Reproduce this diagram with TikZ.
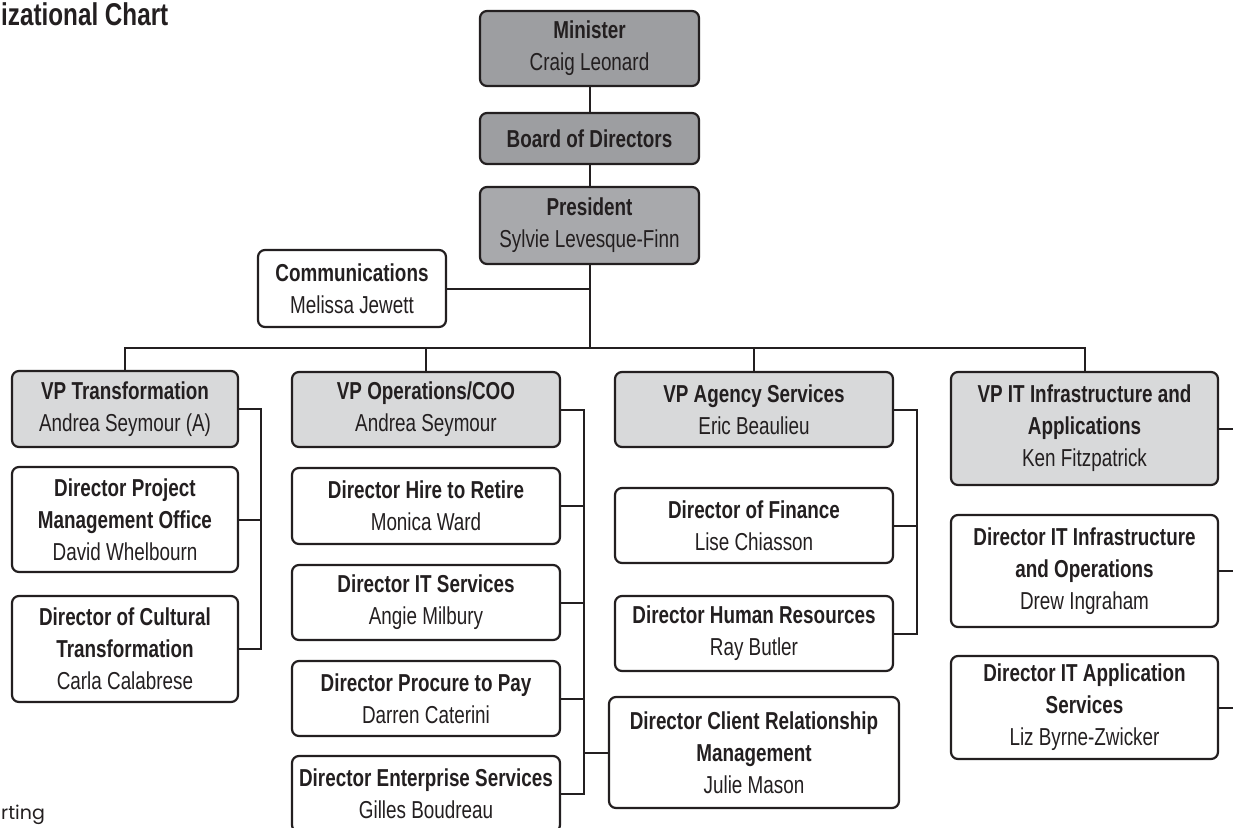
\documentclass[tikz,border=0pt]{standalone}
\usepackage{fontspec}
\usepackage{xcolor}
\setmainfont[FakeStretch=0.77]{Liberation Sans}
\newfontfamily\notefont{Poppins}

\definecolor{ink}{RGB}{35,31,32}
\definecolor{topgrey}{RGB}{157,158,161}
\definecolor{presgrey}{RGB}{168,169,172}
\definecolor{vpgrey}{RGB}{216,217,218}

\begin{document}
\begin{tikzpicture}[x=1pt, y=-1pt,
    box/.style={draw=ink, line width=2.2pt, rounded corners=7pt, align=center,
      inner sep=2pt, text=ink, font=\fontsize{24.5}{32}\selectfont},
    topbox/.style={box, fill=topgrey},
    presbox/.style={box, fill=presgrey},
    vpbox/.style={box, fill=vpgrey},
    link/.style={draw=ink, line width=2pt}]
    \useasboundingbox (0,0) rectangle (1233,827);
    \clip (0,0) rectangle (1233,827);

    % top of the chart
    \node[anchor=base west, inner sep=0, text=ink, font=\fontsize{31.5}{38}\selectfont\bfseries]
      (title) at (1,25) {izational Chart};
    \node[topbox, minimum width=219pt, minimum height=75pt]
      (minister) at (589.5,48.5) {\textbf{Minister}\\Craig Leonard};
    \node[topbox, minimum width=219pt, minimum height=51pt]
      (board) at (589.5,138.5) {\textbf{Board of Directors}};
    \node[presbox, minimum width=219pt, minimum height=77pt]
      (president) at (589.5,225.5) {\textbf{President}\\Sylvie Levesque-Finn};
    \node[box, minimum width=188pt, minimum height=77pt]
      (comms) at (352,288.5) {\textbf{Communications}\\Melissa Jewett};

    % vice-presidents
    \node[vpbox, minimum width=226pt, minimum height=76pt]
      (vptrans) at (125,409) {\textbf{VP Transformation}\\Andrea Seymour (A)};
    \node[vpbox, minimum width=268pt, minimum height=75pt]
      (vpops) at (426,409.5) {\textbf{VP Operations/COO}\\Andrea Seymour};
    \node[vpbox, minimum width=278pt, minimum height=75pt]
      (vpagency) at (754,409.5) {\textbf{VP Agency Services}\\Eric Beaulieu};
    \node[vpbox, minimum width=267pt, minimum height=113pt]
      (vpit) at (1084.5,428.5) {\textbf{VP IT Infrastructure and}\\\textbf{Applications}\\Ken Fitzpatrick};

    % directors under transformation
    \node[box, minimum width=226pt, minimum height=105pt]
      (pmo) at (125,519.5) {\textbf{Director Project}\\\textbf{Management Office}\\David Whelbourn};
    \node[box, minimum width=226pt, minimum height=106pt]
      (cultural) at (125,649) {\textbf{Director of Cultural}\\\textbf{Transformation}\\Carla Calabrese};

    % directors under operations
    \node[box, minimum width=268pt, minimum height=76pt]
      (hire) at (426,506) {\textbf{Director Hire to Retire}\\Monica Ward};
    \node[box, minimum width=268pt, minimum height=75pt]
      (itserv) at (426,602.5) {\textbf{Director IT Services}\\Angie Milbury};
    \node[box, minimum width=268pt, minimum height=75pt]
      (procure) at (426,698.5) {\textbf{Director Procure to Pay}\\Darren Caterini};
    \node[box, minimum width=268pt, minimum height=76pt]
      (enterprise) at (426,794) {\textbf{Director Enterprise Services}\\Gilles Boudreau};
    \node[box, minimum width=290pt, minimum height=111pt]
      (client) at (754,752.5) {\textbf{Director Client Relationship}\\\textbf{Management}\\Julie Mason};

    % directors under agency services
    \node[box, minimum width=278pt, minimum height=75pt]
      (finance) at (754,525.5) {\textbf{Director of Finance}\\Lise Chiasson};
    \node[box, minimum width=278pt, minimum height=75pt]
      (hr) at (754,633.5) {\textbf{Director Human Resources}\\Ray Butler};

    % directors under IT
    \node[box, minimum width=267pt, minimum height=112pt]
      (itinfra) at (1084.5,571) {\textbf{Director IT Infrastructure}\\\textbf{and Operations}\\Drew Ingraham};
    \node[box, minimum width=267pt, minimum height=103pt]
      (itapp) at (1084.5,707.5) {\textbf{Director IT Application}\\\textbf{Services}\\Liz Byrne-Zwicker};

    \node[anchor=base west, inner sep=0, text=ink, font=\notefont\fontsize{19}{22}\selectfont]
      (note) at (1,819) {rting};

    % reporting lines
    \coordinate (bus) at (0,348);
    \coordinate (transbar) at (261,0);
    \coordinate (opsbar) at (584,0);
    \coordinate (agencybar) at (917,0);
    \coordinate (edge) at (1245,0);

    \draw[link] (minister) -- (board);
    \draw[link] (board) -- (president);
    \draw[link] (president.south) -- (president.south |- bus);
    \draw[link] (comms.east) -- (comms.east -| president.south);
    \draw[link] (vptrans.north) -- (vptrans.north |- bus) -| (vpit.north);
    \draw[link] (vpops.north) -- (vpops.north |- bus);
    \draw[link] (vpagency.north) -- (vpagency.north |- bus);

    \draw[link] (vptrans.east) -| (transbar |- cultural.east) -- (cultural.east);
    \draw[link] (pmo.east) -- (pmo.east -| transbar);

    \draw[link] (vpops.east) -| (opsbar |- enterprise.east) -- (enterprise.east);
    \draw[link] (hire.east) -- (hire.east -| opsbar);
    \draw[link] (itserv.east) -- (itserv.east -| opsbar);
    \draw[link] (procure.east) -- (procure.east -| opsbar);
    \draw[link] (client.west) -- (client.west -| opsbar);

    \draw[link] (vpagency.east) -| (agencybar |- hr.east) -- (hr.east);
    \draw[link] (finance.east) -- (finance.east -| agencybar);

    \draw[link] (vpit.east) -- (vpit.east -| edge);
    \draw[link] (itinfra.east) -- (itinfra.east -| edge);
    \draw[link] (itapp.east) -- (itapp.east -| edge);
  \end{tikzpicture}
\end{document}
